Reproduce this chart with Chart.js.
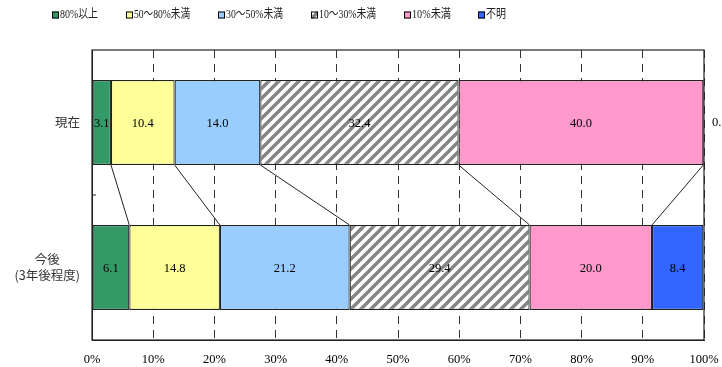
<!DOCTYPE html>
<html>
<head>
<meta charset="utf-8">
<script src="https://cdn.jsdelivr.net/npm/chart.js@4"></script>
<style>
  html, body { margin: 0; padding: 0; background: #fff; }
  #wrap { width: 722px; height: 367px; position: relative; }
</style>
</head>
<body>
<div id="wrap"><canvas id="chart"></canvas></div>
<script>
// categories (rows) and answer groups
const rows = ['現在', ['今後', '(3年後程度)']];
const groups = ['80%以上', '50～80%未満', '30～50%未満', '10～30%未満', '10%未満', '不明'];

// percentages per group: [現在, 今後]
const over80 = [3.1, 6.1];
const from50to80 = [10.4, 14.8];
const from30to50 = [14.0, 21.2];
const from10to30 = [32.4, 29.4];
const under10 = [40.0, 20.0];
const unknown = [0.1, 8.4];

const xTicks = [0, 10, 20, 30, 40, 50, 60, 70, 80, 90, 100];

const SERIF = "'Liberation Serif', 'Noto Sans CJK JP', serif";
const SANS = "'Noto Sans CJK JP', sans-serif";
const EDGE = '#222';

// legend box positions along the top line
const legendX = [52, 126, 218, 311, 404, 478];
const legendTextW = [38, 56, 57, 57, 39, 20];

function makeHatch() {
    const size = 10;
    const c = document.createElement('canvas');
    c.width = size; c.height = size;
    const g = c.getContext('2d');
    g.fillStyle = '#ffffff';
    g.fillRect(0, 0, size, size);
    g.strokeStyle = '#858585';
    g.lineWidth = 3.4;
    g.beginPath();
    g.moveTo(-size / 2, size / 2); g.lineTo(size / 2, -size / 2);
    g.moveTo(0, size); g.lineTo(size, 0);
    g.moveTo(size / 2, size * 1.5); g.lineTo(size * 1.5, size / 2);
    g.stroke();
    return g.createPattern(c, 'repeat');
}

const hatch = makeHatch();
const fills = ['#339966', '#ffff99', '#99ccff', hatch, '#ff99cc', '#3366ff'];
const seriesValues = [over80, from50to80, from30to50, from10to30, under10, unknown];

// connector lines, value labels, frame and legend
const decorPlugin = {
    id: 'decor',
    afterDatasetsDraw(chart) {
        const ctx = chart.ctx;
        const metas = chart.data.datasets.map((_, i) => chart.getDatasetMeta(i));

        // lines between the two bars at each cumulative boundary
        ctx.save();
        ctx.strokeStyle = '#222';
        ctx.lineWidth = 1;
        for (let i = 0; i < metas.length - 1; i++) {
            const a = metas[i].data[0];
            const b = metas[i].data[1];
            ctx.beginPath();
            ctx.moveTo(a.x, a.y + a.height / 2);
            ctx.lineTo(b.x, b.y - b.height / 2);
            ctx.stroke();
        }
        ctx.restore();

        // value labels
        ctx.save();
        ctx.font = '12.5px ' + SERIF;
        ctx.fillStyle = '#000';
        ctx.textBaseline = 'middle';
        metas.forEach((meta, di) => {
            meta.data.forEach((bar, ri) => {
                const v = chart.data.datasets[di].data[ri];
                const txt = v.toFixed(1);
                const w = Math.abs(bar.x - bar.base);
                if (w < 4) {
                    ctx.textAlign = 'left';
                    ctx.fillText(txt, chart.chartArea.right + 8, bar.y);
                } else {
                    ctx.textAlign = 'center';
                    ctx.fillText(txt, (bar.x + bar.base) / 2, bar.y + 1);
                }
            });
        });
        ctx.restore();
    },
    afterDraw(chart) {
        const ctx = chart.ctx;
        const area = chart.chartArea;
        ctx.save();
        ctx.strokeStyle = EDGE;
        ctx.lineWidth = 1.2;
        ctx.strokeRect(area.left, area.top, area.right - area.left, area.bottom - area.top);

        // small inner tick between the two rows
        const yMid = (area.top + area.bottom) / 2;
        ctx.lineWidth = 1;
        ctx.beginPath();
        ctx.moveTo(area.left, yMid);
        ctx.lineTo(area.left + 4, yMid);
        ctx.stroke();

        // row labels, lines centred within each label block
        const yScale = chart.scales.y;
        ctx.font = '12.5px ' + SANS;
        ctx.fillStyle = '#333';
        ctx.textBaseline = 'middle';
        ctx.textAlign = 'center';
        rows.forEach((lab, i) => {
            const lines = Array.isArray(lab) ? lab : [lab];
            const widest = Math.max(...lines.map(l => ctx.measureText(l).width));
            const cx = area.left - 12 - widest / 2;
            const cy = yScale.getPixelForValue(i);
            const lh = 16;
            lines.forEach((l, j) => {
                ctx.fillText(l, cx, cy + (j - (lines.length - 1) / 2) * lh);
            });
        });

        // legend
        ctx.font = '12.5px ' + SERIF;
        ctx.textAlign = 'left';
        const ly = 15;
        chart.data.datasets.forEach((ds, i) => {
            const x = legendX[i];
            ctx.fillStyle = ds.backgroundColor;
            ctx.fillRect(x, ly - 3.5, 7, 7);
            ctx.strokeStyle = '#000';
            ctx.lineWidth = 1;
            ctx.strokeRect(x + 0.5, ly - 3.5 + 0.5, 6, 6);
            ctx.fillStyle = '#222';
            ctx.fillText(ds.label, x + 8, ly, legendTextW[i]);
        });
        ctx.restore();
    }
};

new Chart(document.getElementById('chart'), {
    type: 'bar',
    data: {
        labels: rows,
        datasets: groups.map((g, i) => ({
            label: g,
            data: seriesValues[i],
            backgroundColor: fills[i],
            borderColor: EDGE,
            borderWidth: 1.2,
            borderSkipped: false,
            barPercentage: 0.586,
            categoryPercentage: 1
        }))
    },
    options: {
        indexAxis: 'y',
        responsive: true,
        maintainAspectRatio: false,
        animation: false,
        layout: { padding: { top: 50, right: 18, left: 0, bottom: 0 } },
        scales: {
            x: {
                stacked: true,
                min: xTicks[0],
                max: xTicks[xTicks.length - 1],
                afterBuildTicks(scale) {
                    scale.ticks = xTicks.map(v => ({ value: v }));
                },
                afterFit(scale) {
                    scale.height = 27;
                    scale.paddingLeft = 0;
                    scale.paddingRight = 0;
                },
                ticks: {
                    callback: v => v + '%',
                    color: '#000',
                    font: { family: SERIF, size: 12.5 },
                    padding: 12,
                    maxRotation: 0
                },
                grid: {
                    color: '#333',
                    lineWidth: 1,
                    drawTicks: false
                },
                border: { display: true, color: EDGE, width: 1, dash: [8, 6] }
            },
            y: {
                stacked: true,
                offset: true,
                afterFit(scale) { scale.width = 92; },
                ticks: { display: false },
                grid: { display: false },
                border: { display: true, color: EDGE, width: 1 }
            }
        },
        plugins: {
            legend: { display: false },
            tooltip: { enabled: false }
        }
    },
    plugins: [decorPlugin]
});
</script>
</body>
</html>
